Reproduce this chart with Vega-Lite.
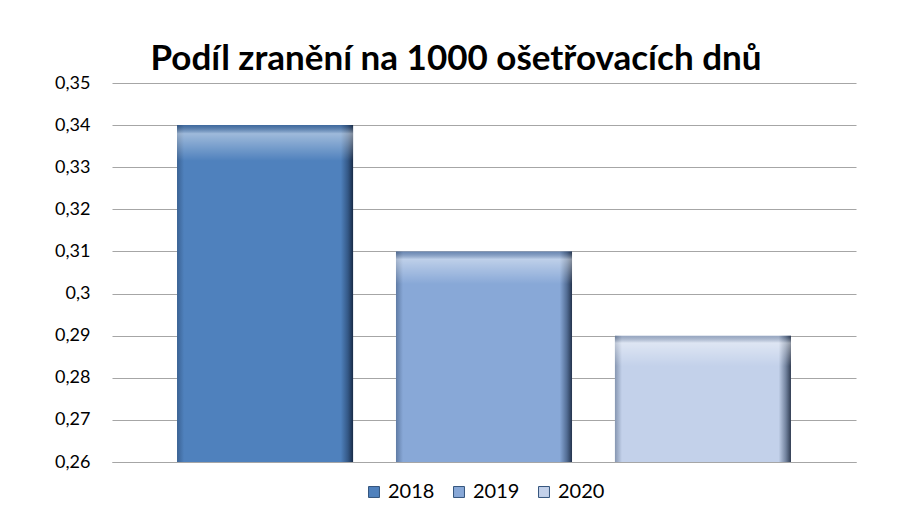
{
  "$schema": "https://vega.github.io/schema/vega-lite/v6.json",
  "width": 744,
  "height": 379,
  "autosize": {"type": "none"},
  "padding": {"left": 112, "top": 83, "right": 48, "bottom": 59},
  "background": "white",
  "title": {
    "text": "Podíl zranění na 1000 ošetřovacích dnů",
    "font": "Lato",
    "fontSize": 35,
    "fontWeight": "bold",
    "color": "#000000",
    "anchor": "middle",
    "baseline": "alphabetic",
    "dx": -28,
    "dy": 42,
    "offset": 11
  },
  "data": {
    "values": [
      {"rok": "2018", "podil": 0.34},
      {"rok": "2019", "podil": 0.31},
      {"rok": "2020", "podil": 0.29}
    ]
  },
  "encoding": {
    "x": {
      "field": "rok",
      "type": "nominal",
      "scale": {"paddingInner": 0.196, "paddingOuter": 0.297},
      "axis": {"labels": false, "ticks": false, "title": null, "domain": true, "domainColor": "#A6A6A6"}
    },
    "y": {
      "field": "podil",
      "type": "quantitative",
      "scale": {"domain": [0.26, 0.35], "zero": false, "nice": false},
      "axis": {
        "title": null,
        "values": [0.26, 0.27, 0.28, 0.29, 0.3, 0.31, 0.32, 0.33, 0.34, 0.35],
        "format": ".2~f",
        "ticks": false,
        "domain": false,
        "labelPadding": 22,
        "labelFontSize": 18,
        "labelFont": "Lato",
        "labelColor": "#000000",
        "gridColor": "#A6A6A6",
        "gridWidth": 1.2,
        "gridOpacity": 1
      }
    }
  },
  "layer": [
    {
      "mark": {"type": "bar", "clip": true},
      "encoding": {
        "color": {
          "field": "rok",
          "type": "nominal",
          "scale": {"range": ["#4F81BD", "#88A8D7", "#C3D1EA"]},
          "legend": {
            "title": null,
            "orient": "bottom",
            "direction": "horizontal",
            "symbolType": "square",
            "symbolSize": 120,
            "symbolStrokeColor": "#34557d",
            "symbolStrokeWidth": 1,
            "labelFontSize": 20,
            "labelFont": "Lato",
            "labelColor": "#000000",
            "labelOffset": 4,
            "columnPadding": 14,
            "offset": 20
          }
        }
      }
    },
    {
      "mark": {
        "type": "bar",
        "clip": true,
        "fill": {
          "gradient": "linear",
          "x1": 0, "x2": 1, "y1": 0, "y2": 0,
          "stops": [
            {"offset": 0, "color": "rgba(20,40,70,0.35)"},
            {"offset": 0.04, "color": "rgba(20,40,70,0)"},
            {"offset": 0.93, "color": "rgba(20,40,70,0)"},
            {"offset": 0.97, "color": "rgba(20,40,70,0.45)"},
            {"offset": 1, "color": "rgba(10,20,40,0.8)"}
          ]
        }
      }
    },
    {
      "mark": {
        "type": "bar",
        "clip": true,
        "fill": {
          "gradient": "linear",
          "x1": 0, "x2": 0, "y1": 0, "y2": 1,
          "stops": [
            {"offset": 0, "color": "rgba(20,40,70,0.25)"},
            {"offset": 0.006, "color": "rgba(255,255,255,0.45)"},
            {"offset": 0.025, "color": "rgba(255,255,255,0)"},
            {"offset": 0.98, "color": "rgba(20,40,70,0)"},
            {"offset": 1, "color": "rgba(20,40,70,0.35)"}
          ]
        }
      }
    }
  ],
  "config": {
    "locale": {"number": {"decimal": ",", "thousands": " ", "grouping": [3], "currency": ["", " Kč"]}},
    "view": {"stroke": null},
    "legend": {"layout": {"bottom": {"anchor": "middle"}}}
  }
}
